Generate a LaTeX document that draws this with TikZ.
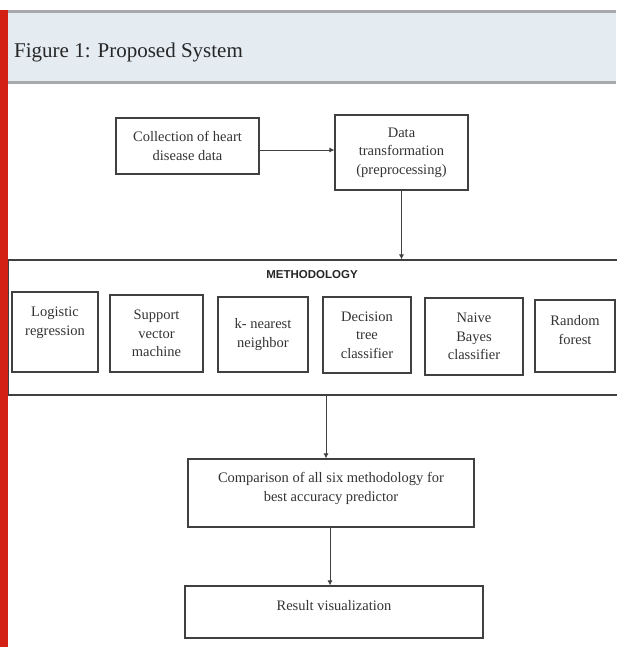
\documentclass[tikz,border=0pt]{standalone}
\usepackage{fontspec}
\setmainfont{Liberation Serif}
\setsansfont{Liberation Sans}
\usepackage{tikz}
\usetikzlibrary{arrows.meta,positioning}
\definecolor{BarRed}{HTML}{D42116}
\definecolor{HeadBlue}{HTML}{E4EBF1}
\definecolor{RuleGray}{HTML}{A8A9AC}
\definecolor{LineGray}{HTML}{404040}

\begin{document}
\begin{tikzpicture}[x=1pt,y=-1pt,
    box/.style={draw=LineGray,line width=1.1pt,inner sep=2pt,align=center,
                font=\fontsize{14.5}{18.5}\selectfont,text=black!80},
    algo/.style={box,minimum height=76pt},
    arr/.style={-{Latex[length=5pt,width=5pt]},line width=0.9pt,LineGray}]
  \useasboundingbox (0,0) rectangle (616,647);
  % header band
  \fill[HeadBlue] (8,12) rectangle (616,82);
  \draw[RuleGray,line width=3pt] (8,11.5) -- (616,11.5);
  \draw[RuleGray,line width=3pt] (8,82.5) -- (616,82.5);
  \node[anchor=base west,inner sep=0pt,font=\fontsize{21}{23}\selectfont,text=black!85]
    (title) at (14,58) {Figure 1: Proposed System};

  % input and preprocessing
  \node[box,minimum width=143pt,minimum height=56pt] (collect) at (187.5,146)
    {Collection of heart\\disease data};
  \node[box,minimum width=133pt,minimum height=75pt] (transform) at (401.5,152.5)
    {Data\\transformation\\(preprocessing)};
  \draw[arr] (collect.east |- 0,150) -- (transform.west |- 0,150);

  % methodology frame
  \node[draw=LineGray,line width=1.1pt,minimum width=614pt,minimum height=135pt]
    (method) at (315,327.5) {};
  \node[font=\sffamily\bfseries\fontsize{11.5}{12}\selectfont,text=black!85] (methtitle)
    at (312,275) {METHODOLOGY};
  \draw[arr] (transform.south) -- (transform.south |- method.north);

  \node[algo,minimum width=86pt,minimum height=80pt] (logreg) at (55,332) {Logistic\\regression\\[3.5pt]};
  \node[algo,minimum width=93pt,minimum height=77pt] (svm) at (156.5,333.5) {Support\\vector\\machine};
  \node[algo,minimum width=90pt,minimum height=75pt] (knn) at (263,334.5) {k- nearest\\neighbor};
  \node[algo,minimum width=88pt] (dtree) at (367,335) {Decision\\tree\\classifier};
  \node[algo,minimum width=98pt,minimum height=77pt] (bayes) at (474,336.5) {Naive\\Bayes\\classifier};
  \node[algo,minimum width=80pt,minimum height=72pt] (forest) at (575,336) {Random\\forest\\[-6.5pt]};

  % comparison and result
  \node[box,minimum width=286pt,minimum height=68pt] (compare) at (331,493)
    {Comparison of all six methodology for\\best accuracy predictor\\[-6pt]};
  \draw[arr] (method.south -| 326,0) -- (compare.north -| 326,0);
  \node[box,minimum width=298pt,minimum height=52pt] (result) at (334,612)
    {Result visualization\\[-4.5pt]};
  \draw[arr] (compare.south -| 330,0) -- (result.north -| 330,0);

  \fill[BarRed] (0,10) rectangle (8,647);
\end{tikzpicture}
\end{document}
